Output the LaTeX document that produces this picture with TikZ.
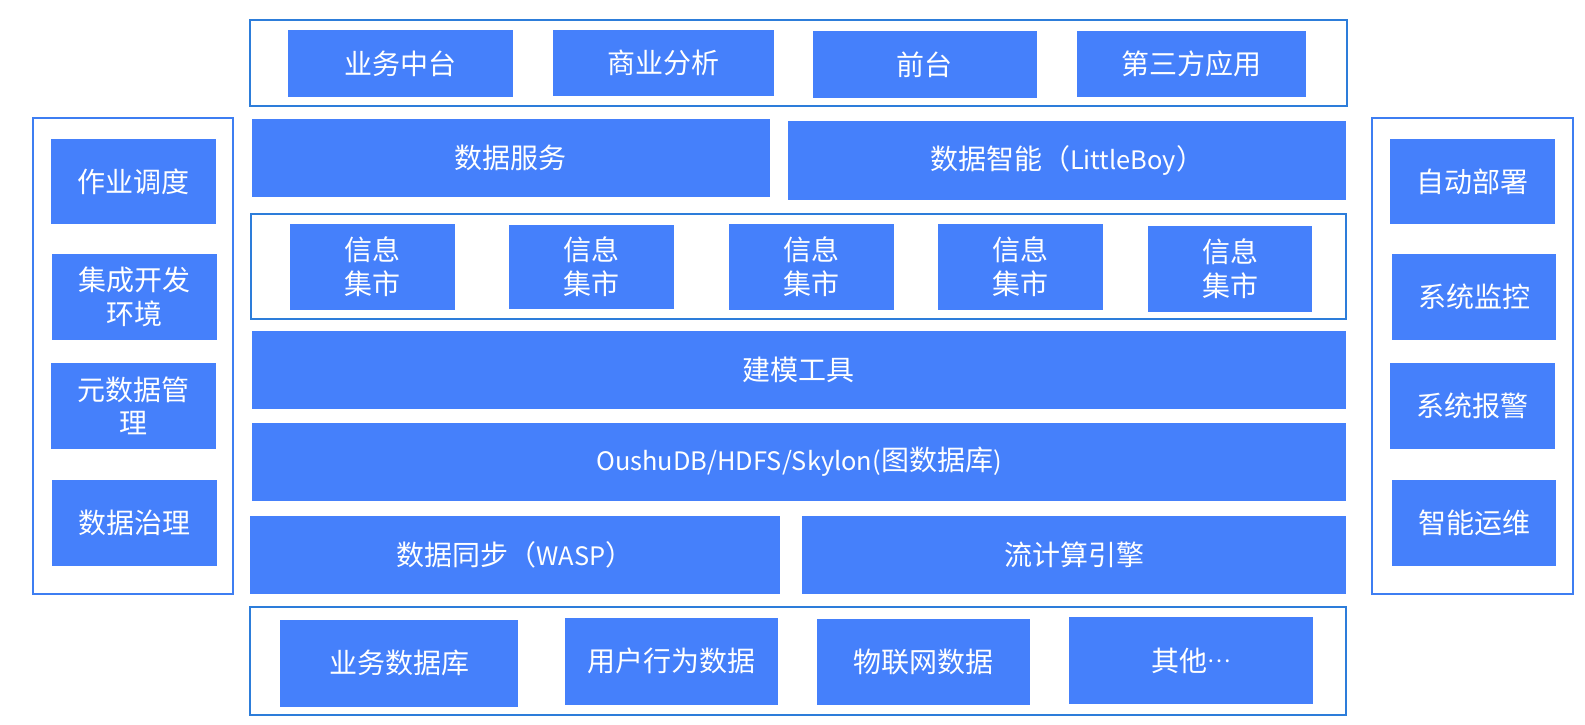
\documentclass[tikz,border=0pt]{standalone}
\usepackage{fontspec}
\setmainfont{Noto Sans CJK SC}
\definecolor{boxblue}{RGB}{69,128,251}
\definecolor{framedark}{RGB}{45,125,218}
\definecolor{framelight}{RGB}{62,126,242}
\newcommand{\latpart}[1]{{\fontsize{25.4}{33}\selectfont #1}}
\newcommand{\middots}{\raisebox{0.3em}{\fontsize{22}{33}\selectfont …}}
\tikzset{
  blk/.style={fill=boxblue, text=white, inner sep=0pt, outer sep=0pt, align=center,
    font=\fontsize{28}{33.5}\selectfont},
  frameA/.style={draw=framedark, line width=2pt, inner sep=0pt, outer sep=0pt},
  frameB/.style={draw=framelight, line width=2pt, inner sep=0pt, outer sep=0pt},
}
\begin{document}
\begin{tikzpicture}[x=1pt,y=-1pt]
\useasboundingbox (0,0) rectangle (1585,724);
% containers
\node[frameA, minimum width=1097pt, minimum height=86.5pt] (topc) at (798,62.75) {};
\node[frameA, minimum width=1094.8pt, minimum height=104.7pt] (martc) at (798.8,266.65) {};
\node[frameA, minimum width=1096.5pt, minimum height=107.7pt] (botc) at (797.95,661.15) {};
\node[frameB, minimum width=200.4pt, minimum height=475.7pt] (leftc) at (132.8,356.15) {};
\node[frameB, minimum width=200.7pt, minimum height=475.7pt] (rightc) at (1472.75,356.15) {};
% top row
\node[blk, minimum width=225.2pt, minimum height=66.7pt] (ywzt) at (400.6,63.35) {业务中台};
\node[blk, minimum width=220.4pt, minimum height=65.7pt] (syfx) at (663.3,62.85) {商业分析};
\node[blk, minimum width=223.8pt, minimum height=66.7pt] (qt) at (924.9,64.35) {前台};
\node[blk, minimum width=229pt, minimum height=65.7pt] (dsf) at (1191.6,63.85) {第三方应用};
% services
\node[blk, minimum width=517.9pt, minimum height=77.7pt] (sjfw) at (510.75,157.85) {数据服务};
\node[blk, minimum width=558pt, minimum height=78.7pt] (sjzn) at (1067.1,160.35) {数据智能（\latpart{LittleBoy}）};
% marts
\node[blk, minimum width=165pt, minimum height=85.7pt] (m1) at (372.5,266.85) {信息\\集市};
\node[blk, minimum width=164.9pt, minimum height=83.7pt] (m2) at (591.55,266.85) {信息\\集市};
\node[blk, minimum width=165pt, minimum height=85.7pt] (m3) at (811.6,266.85) {信息\\集市};
\node[blk, minimum width=164.6pt, minimum height=85.7pt] (m4) at (1020.4,266.85) {信息\\集市};
\node[blk, minimum width=164.2pt, minimum height=85.7pt] (m5) at (1230,268.85) {信息\\集市};
% layers
\node[blk, minimum width=1094.3pt, minimum height=78pt] (jmgj) at (798.95,370) {建模工具};
\node[blk, minimum width=1094.3pt, minimum height=77.7pt] (db) at (798.95,461.85) {\latpart{OushuDB/HDFS/Skylon(}图数据库\latpart{)}};
\node[blk, minimum width=529.6pt, minimum height=77.7pt] (sjtb) at (514.9,554.85) {数据同步（\latpart{WASP}）};
\node[blk, minimum width=544.2pt, minimum height=77.7pt] (ljs) at (1074,554.85) {流计算引擎};
% sources
\node[blk, minimum width=238.2pt, minimum height=86.7pt] (ywsjk) at (399,663.35) {业务数据库};
\node[blk, minimum width=212.7pt, minimum height=86.7pt] (yhxw) at (671.35,661.35) {用户行为数据};
\node[blk, minimum width=212.4pt, minimum height=85.7pt] (wlw) at (923.4,661.85) {物联网数据};
\node[blk, minimum width=244.1pt, minimum height=86.7pt] (qita) at (1191.05,660.35) {其他\middots};
% left column
\node[blk, minimum width=164.8pt, minimum height=84.7pt] (zydd) at (133.3,181.35) {作业调度};
\node[blk, minimum width=165.2pt, minimum height=86pt] (jckf) at (134.5,297) {集成开发\\环境};
\node[blk, minimum width=164.8pt, minimum height=85.7pt] (ysj) at (133.3,405.85) {元数据管\\理};
\node[blk, minimum width=165.2pt, minimum height=85.7pt] (sjzl) at (134.5,522.85) {数据治理};
% right column
\node[blk, minimum width=164.5pt, minimum height=84.7pt] (zdbs) at (1472.25,181.35) {自动部署};
\node[blk, minimum width=163.8pt, minimum height=86pt] (xtjk) at (1474,297) {系统监控};
\node[blk, minimum width=164.5pt, minimum height=85.7pt] (xtbj) at (1472.25,405.85) {系统报警};
\node[blk, minimum width=163.8pt, minimum height=85.7pt] (znyw) at (1474,522.85) {智能运维};
\end{tikzpicture}
\end{document}
